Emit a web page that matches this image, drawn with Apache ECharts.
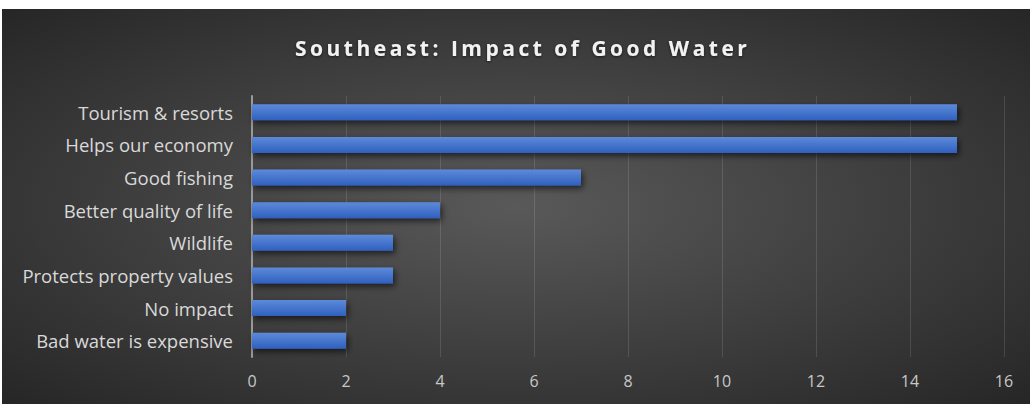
<!DOCTYPE html>
<html>
<head>
<meta charset="utf-8">
<title>Southeast: Impact of Good Water</title>
<script src="https://cdn.jsdelivr.net/npm/echarts@6/dist/echarts.min.js"></script>
<style>
    html, body { margin:0; padding:0; background:#ffffff; }
    #waterChart { position:absolute; left:2px; top:9px; width:1028px; height:395px; }
</style>
</head>
<body>
<div id="waterChart"></div>
<script>
var chartTitle = 'Southeast: Impact of Good Water';
var categories = ['Tourism & resorts', 'Helps our economy', 'Good fishing', 'Better quality of life',
                  'Wildlife', 'Protects property values', 'No impact', 'Bad water is expensive'];
var counts = [15, 15, 7, 4, 3, 3, 2, 2];
var tickLabels = ['0', '2', '4', '6', '8', '10', '12', '14', '16'];

window.onload = function() {
    loadWaterChart();
}

function loadWaterChart() {
    var option = {
        backgroundColor: {
            type:'radial', x:0.5, y:0.5, r:0.75,
            colorStops:[{offset:0, color:'#595959'}, {offset:1, color:'#232323'}]
        },
        title:{
            text:chartTitle,
            left:288,
            top:23,
            textStyle:{
                color:'#f2f2f2',
                fontFamily:'Open Sans',
                fontWeight:'bold',
                fontSize:21,
                textShadowColor:'rgba(0,0,0,0.6)',
                textShadowBlur:3,
                textShadowOffsetY:1
            }
        },
        grid:{ left:250, right:26, top:87, bottom:47 },
        xAxis:{
            type:'value',
            min:0, max:16, interval:2,
            axisLine:{show:false},
            axisTick:{show:false},
            axisLabel:{
                color:'#c8c8c8', fontSize:16, fontFamily:'Open Sans', margin:16,
                formatter:function(v) { return tickLabels[v / 2]; }
            },
            splitLine:{ lineStyle:{ color:'rgba(255,255,255,0.12)', width:1 } }
        },
        yAxis:{
            type:'category',
            data:categories,
            inverse:true,
            axisLine:{ lineStyle:{ color:'#9a9a9a', width:2 } },
            axisTick:{show:false},
            axisLabel:{ color:'#d9d9d9', fontSize:18.5, fontFamily:'Open Sans', margin:19 }
        },
        series:[{
            name:'Count',
            type:'bar',
            data:counts,
            barWidth:16,
            itemStyle:{
                color:{
                    type:'linear', x:0, y:0, x2:0, y2:1,
                    colorStops:[{offset:0, color:'#5d8ad9'}, {offset:1, color:'#2f60bf'}]
                },
                shadowColor:'rgba(0,0,0,0.6)',
                shadowBlur:6,
                shadowOffsetX:2,
                shadowOffsetY:3
            }
        }],
        animation:false
    };

    var waterChart = echarts.init(document.getElementById('waterChart'), null, {renderer:'svg'});
    waterChart.setOption(option);

    // title is spaced out like the original
    var texts = document.querySelectorAll('#waterChart text');
    for (var i = 0; i < texts.length; i++) {
        if (texts[i].textContent === chartTitle) {
            texts[i].style.letterSpacing = '3.5px';
        }
    }
}
</script>
</body>
</html>
